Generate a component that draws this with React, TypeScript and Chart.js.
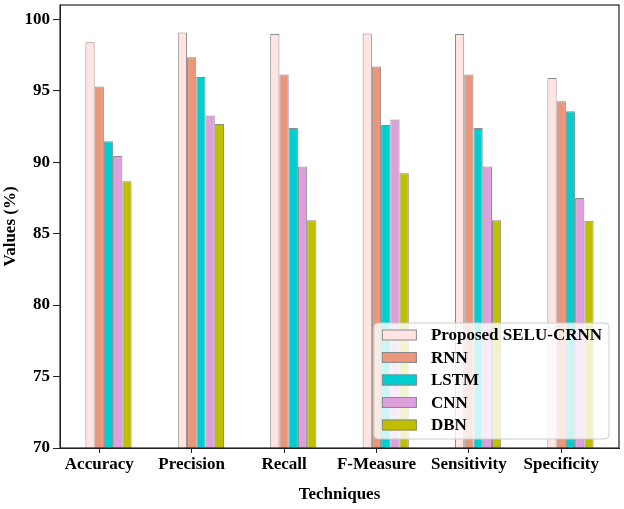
import React, { useEffect, useRef } from "react";
import { Chart, registerables } from "chart.js";

Chart.register(...registerables);

const categories = ["Accuracy", "Precision", "Recall", "F-Measure", "Sensitivity", "Specificity"];
const seriesNames = ["Proposed SELU-CRNN", "RNN", "LSTM", "CNN", "DBN"];
const proposed = [98.4, 99.07, 98.97, 99.0, 98.97, 95.9];
const rnn = [95.3, 97.34, 96.13, 96.7, 96.13, 94.27];
const lstm = [91.47, 95.97, 92.4, 92.6, 92.4, 93.57];
const cnn = [90.44, 93.27, 89.7, 92.98, 89.7, 87.5];
const dbn = [88.67, 92.68, 85.94, 89.23, 85.94, 85.9];
const seriesValues = [proposed, rnn, lstm, cnn, dbn];
const colors = ["#ffe4e1", "#e9967a", "#00ced1", "#dda0dd", "#bfbf00"];
const yTicks = [70, 75, 80, 85, 90, 95, 100];

const FONT = "'Liberation Serif', 'Times New Roman', serif";
const EDGE = "#8a8a8a";

const framePlugin = {
  id: "frame",
  afterDatasetsDraw(chart: any) {
    const { ctx, chartArea: a } = chart;
    ctx.save();
    ctx.strokeStyle = "#222";
    ctx.lineWidth = 1.2;
    ctx.strokeRect(a.left, a.top, a.right - a.left, a.bottom - a.top);
    ctx.restore();
  },
};

const legendPlugin = {
  id: "customLegend",
  afterDraw(chart: any) {
    const { ctx, chartArea: a } = chart;
    ctx.save();
    ctx.font = `bold 17px ${FONT}`;
    const maxText = Math.max(...seriesNames.map((n) => ctx.measureText(n).width));
    const padL = 8, sw = 35, sh = 11, gap = 14, padR = 7, rowH = 22.5, padT = 12, padB = 14;
    const w = padL + sw + gap + maxText + padR;
    const h = padT + rowH * (seriesNames.length - 1) + padB;
    const right = a.right - 10;
    const bottom = a.bottom - 9;
    const left = right - w;
    const top = bottom - h;
    ctx.beginPath();
    (ctx as any).roundRect(left, top, w, h, 4);
    ctx.fillStyle = "rgba(255,255,255,0.8)";
    ctx.fill();
    ctx.strokeStyle = "#cccccc";
    ctx.lineWidth = 1;
    ctx.stroke();
    seriesNames.forEach((name, i) => {
      const cy = top + padT + i * rowH;
      ctx.fillStyle = colors[i];
      ctx.fillRect(left + padL, cy - sh / 2, sw, sh);
      ctx.strokeStyle = EDGE;
      ctx.lineWidth = 1;
      ctx.strokeRect(left + padL + 0.5, cy - sh / 2 + 0.5, sw - 1, sh - 1);
      ctx.fillStyle = "#000";
      ctx.textBaseline = "middle";
      ctx.textAlign = "left";
      ctx.fillText(name, left + padL + sw + gap, cy + 1);
    });
    ctx.restore();
  },
};

export default function App() {
  const ref = useRef<HTMLCanvasElement>(null);
  useEffect(() => {
    if (!ref.current) return;
    Chart.defaults.font.family = FONT;
    const chart = new Chart(ref.current, {
      type: "bar",
      data: {
        datasets: seriesNames.map((name, k) => ({
          label: name,
          data: seriesValues[k].map((v, i) => ({ x: i, y: v })),
          backgroundColor: colors[k],
          borderColor: EDGE,
          borderWidth: 1,
          borderSkipped: false,
          categoryPercentage: 0.5,
          barPercentage: 1,
        })),
      },
      plugins: [framePlugin, legendPlugin],
      options: {
        responsive: false,
        animation: false,
        layout: { padding: { left: 0, top: 5, right: 5, bottom: 0 } },
        plugins: {
          legend: { display: false },
          tooltip: { enabled: false },
        },
        scales: {
          x: {
            type: "linear",
            offset: false,
            min: -0.525,
            max: 5.525,
            afterBuildTicks: (axis: any) => {
              axis.ticks = categories.map((_, i) => ({ value: i - 0.1 }));
            },
            afterFit: (axis: any) => {
              axis.height = 61;
              axis.paddingLeft = 0;
              axis.paddingRight = 0;
            },
            ticks: {
              autoSkip: false,
              maxRotation: 0,
              padding: 1,
              color: "#000",
              font: { family: FONT, size: 17, weight: "bold" },
              callback: (_v: any, idx: number) => categories[idx],
            },
            grid: { drawOnChartArea: false, drawTicks: true, tickLength: 5, tickColor: "#222", offset: false },
            border: { display: true, color: "#222" },
            title: {
              display: true,
              text: "Techniques",
              color: "#000",
              font: { family: FONT, size: 17, weight: "bold" },
              padding: { top: 0, bottom: 4 },
            },
          },
          y: {
            min: 70,
            max: 101,
            afterBuildTicks: (axis: any) => {
              axis.ticks = yTicks.map((v) => ({ value: v }));
            },
            afterFit: (axis: any) => {
              axis.width = 60;
              axis.paddingTop = 0;
              axis.paddingBottom = 0;
            },
            ticks: {
              padding: 3,
              color: "#000",
              font: { family: FONT, size: 17, weight: "bold" },
            },
            grid: { drawOnChartArea: false, drawTicks: true, tickLength: 7, tickColor: "#222" },
            border: { display: true, color: "#222" },
            title: {
              display: true,
              text: "Values (%)",
              color: "#000",
              font: { family: FONT, size: 17, weight: "bold" },
              padding: { top: 0, bottom: 0 },
            },
          },
        },
      } as any,
    });
    return () => chart.destroy();
  }, []);
  return (
    <div style={{ position: "absolute", left: 0, top: 0, width: 624, height: 509, background: "#fff" }}>
      <canvas ref={ref} width={624} height={509} />
    </div>
  );
}
